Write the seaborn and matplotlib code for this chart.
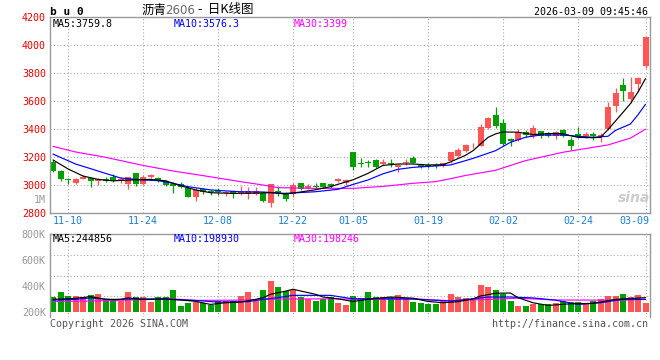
import matplotlib
matplotlib.use("Agg")
import matplotlib.pyplot as plt
import matplotlib.transforms as mtransforms
import numpy as np
import seaborn as sns

# daily candles, 80 sessions (index 0 .. 79)
opens = [3167, 3102, 3043, 3017, 3043, 3050, 3031, 3043, 3055, 3029,
         3009, 3083, 3005, 3060, 3052, 3026, 3009, 3005, 2981, 2912,
         2969, 2959, 2964, 2940, 2955, 2940, 2936, 2936, 2940, 2869,
         2959, 2940, 2936, 3017, 2981, 2995, 3012, 3005, 3026, 3017,
         3233, 3160, 3167, 3178, 3150, 3160, 3126, 3160, 3190, 3150,
         3143, 3143, 3143, 3174, 3207, 3245, 3283, 3277, 3407, 3500,
         3443, 3329, 3324, 3381, 3348, 3384, 3367, 3353, 3393, 3324,
         3365, 3348, 3365, 3346, 3400, 3562, 3715, 3615, 3722, 3853]
highs = [3178, 3107, 3048, 3048, 3074, 3055, 3050, 3055, 3076, 3060,
         3060, 3088, 3074, 3076, 3060, 3036, 3021, 3021, 2993, 2976,
         2981, 2964, 2976, 2957, 2959, 2993, 2988, 2988, 2947, 3007,
         2995, 2952, 3012, 3017, 3005, 3012, 3017, 3017, 3052, 3040,
         3233, 3190, 3178, 3183, 3183, 3183, 3150, 3183, 3207, 3150,
         3160, 3155, 3160, 3238, 3262, 3293, 3300, 3434, 3488, 3555,
         3472, 3336, 3400, 3395, 3429, 3388, 3381, 3386, 3400, 3341,
         3412, 3376, 3376, 3369, 3595, 3691, 3762, 3769, 3774, 4055]
lows = [3095, 3031, 3009, 3009, 3040, 2988, 2998, 3021, 3024, 3017,
        2969, 2993, 3000, 3052, 3019, 2993, 2945, 2976, 2912, 2886,
        2936, 2926, 2926, 2921, 2909, 2926, 2898, 2929, 2881, 2845,
        2921, 2886, 2917, 2964, 2969, 2976, 2976, 2981, 3021, 3000,
        3107, 3126, 3131, 3121, 3143, 3131, 3090, 3143, 3155, 3119,
        3119, 3119, 3131, 3160, 3202, 3238, 3262, 3277, 3400, 3405,
        3281, 3281, 3317, 3341, 3336, 3336, 3341, 3326, 3341, 3250,
        3336, 3336, 3324, 3305, 3395, 3524, 3598, 3584, 3667, 3834]
closes = [3100, 3040, 3033, 3040, 3060, 3026, 3040, 3026, 3033, 3043,
          3055, 3009, 3060, 3071, 3026, 2998, 2995, 2988, 2912, 2964,
          2950, 2950, 2950, 2948, 2936, 2952, 2959, 2959, 2886, 3007,
          2940, 2900, 3000, 2969, 2995, 2988, 2988, 2995, 3040, 3036,
          3126, 3150, 3155, 3126, 3167, 3150, 3143, 3167, 3160, 3131,
          3136, 3136, 3155, 3233, 3250, 3286, 3288, 3412, 3479, 3424,
          3293, 3312, 3376, 3357, 3407, 3353, 3348, 3376, 3348, 3281,
          3348, 3365, 3348, 3357, 3560, 3657, 3674, 3662, 3767, 4055]
# volume, thousands of lots
volumes = [317, 350, 325, 325, 315, 330, 335, 282, 282, 280,
           350, 312, 312, 278, 312, 312, 372, 247, 270, 278,
           265, 252, 286, 286, 286, 325, 350, 286, 372, 434,
           388, 357, 372, 317, 295, 286, 300, 317, 268, 255,
           325, 310, 350, 317, 314, 312, 333, 310, 278, 271,
           263, 264, 286, 340, 312, 310, 295, 410, 388, 372,
           340, 286, 247, 247, 262, 260, 260, 270, 286, 278,
           278, 262, 286, 301, 325, 325, 340, 317, 333, 270]

# moving averages
ma5_idx = [0, 2, 4, 6, 8, 10, 13, 15, 17, 19, 21, 24, 27, 29, 31, 33, 35, 37, 38, 40,
           42, 44, 46, 48, 50, 52, 53, 55, 56, 58, 59, 60, 62, 64, 66, 68, 70, 72, 73, 74,
           75, 76, 77, 78, 79]
ma5_val = [3179, 3115, 3064, 3040, 3030, 3035, 3040, 3030, 2995, 2965, 2945, 2940, 2942, 2945,
           2936, 2950, 2966, 2988, 3005, 3037, 3083, 3140, 3150, 3150, 3143, 3145, 3165, 3212,
           3245, 3340, 3365, 3379, 3377, 3360, 3368, 3366, 3340, 3338, 3340, 3396, 3457, 3519,
           3582, 3664, 3760]
ma10_idx = [0, 3, 5, 7, 9, 12, 14, 16, 18, 21, 23, 25, 28, 31, 35, 38, 40, 42, 44, 46,
            48, 51, 53, 55, 56, 59, 61, 63, 65, 68, 70, 72, 74, 75, 77, 78, 79]
ma10_val = [3221, 3150, 3117, 3083, 3050, 3036, 3031, 3012, 2988, 2965, 2958, 2952, 2950, 2940,
            2952, 2969, 3004, 3036, 3080, 3112, 3126, 3136, 3143, 3174, 3190, 3245, 3305, 3341,
            3357, 3357, 3348, 3341, 3348, 3390, 3436, 3502, 3576]
ma30_idx = [0, 3, 7, 12, 16, 20, 25, 28, 30, 35, 40, 44, 48, 51, 53, 55, 59, 63, 68, 72,
            74, 77, 79]
ma30_val = [3276, 3236, 3198, 3140, 3100, 3067, 3024, 3000, 2981, 2976, 2976, 2990, 3012, 3024,
            3045, 3068, 3105, 3174, 3234, 3269, 3286, 3335, 3399]

vma5_idx = [0, 3, 5, 7, 9, 10, 12, 15, 17, 19, 21, 23, 25, 27, 28, 29, 31, 32, 33, 35,
            36, 38, 40, 42, 45, 48, 50, 52, 54, 56, 57, 59, 61, 62, 64, 66, 69, 72, 75, 79]
vma5_val = [296, 304, 317, 296, 296, 307, 296, 300, 291, 281, 257, 270, 275, 296, 309, 335,
            359, 374, 361, 335, 314, 300, 280, 296, 314, 305, 280, 270, 278, 300, 322, 343,
            345, 309, 270, 249, 262, 265, 296, 309]
vma10_idx = [0, 3, 5, 8, 10, 15, 19, 22, 26, 28, 30, 32, 37, 40, 43, 48, 53, 56, 58, 61,
             64, 67, 70, 73, 76, 79]
vma10_val = [291, 296, 307, 293, 299, 297, 288, 275, 278, 296, 309, 327, 327, 300, 301, 298,
             283, 300, 314, 314, 307, 290, 257, 270, 296, 296]
vma30_idx = [0, 5, 16, 19, 25, 30, 37, 42, 48, 53, 58, 62, 67, 76, 79]
vma30_val = [280, 283, 300, 288, 290, 298, 300, 296, 301, 285, 296, 305, 291, 290, 296]

date_pos = [2, 12, 22, 32, 40, 50, 60, 70, 79]
date_labels = ["11-10", "11-24", "12-08", "12-22", "01-05", "01-19", "02-02", "02-24", "03-09"]
price_ticks = [2800, 3000, 3200, 3400, 3600, 3800, 4000, 4200]
vol_ticks = [200, 400, 600, 800]
vol_labels = ["200K", "400K", "600K", "800K"]

RED = "#ff5555"
GREEN = "#00a000"
GRID = "#aaaaaa"
EDGE = "#999999"
MONO = ["DejaVu Sans Mono", "Noto Sans CJK SC"]
CJK = ["Noto Sans CJK SC", "DejaVu Sans"]

sns.set_theme(style="white")
plt.rcParams["font.family"] = MONO

W, H = 660, 360
fig = plt.figure(figsize=(W / 100, H / 100), dpi=100)
fig.patch.set_facecolor("white")


def px_axes(left, top, right, bottom):
    return fig.add_axes([left / W, 1 - bottom / H, (right - left) / W, (bottom - top) / H])


def fx(x):
    return x / W


def fy(y):
    return 1 - y / H


idx = np.arange(len(closes))
o = np.array(opens)
c = np.array(closes)
colors = np.where(c >= o, RED, GREEN)

# ---- price panel
ax = px_axes(50, 17, 650, 213)
ax.vlines(idx, lows, highs, colors=colors, lw=0.9, zorder=2)
ax.bar(idx, np.maximum(np.abs(c - o), 6), bottom=np.minimum(o, c), width=0.8,
       color=colors, linewidth=0, zorder=2)
sns.lineplot(x=ma30_idx, y=ma30_val, ax=ax, color="#ff00ff", lw=0.85, zorder=3)
sns.lineplot(x=ma10_idx, y=ma10_val, ax=ax, color="#0000ff", lw=0.85, zorder=3)
sns.lineplot(x=ma5_idx, y=ma5_val, ax=ax, color="black", lw=0.85, zorder=3)

ax.set_xlim(-0.4, 79.6)
ax.set_ylim(2800, 4200)
ax.set_yticks(price_ticks)
ax.set_yticklabels([str(t) for t in price_ticks])
ax.set_xticks(date_pos)
ax.set_xticklabels(date_labels)
ax.tick_params(axis="y", length=0, pad=3, labelsize=7.2, labelcolor="#e60000")
ax.tick_params(axis="x", length=0, pad=2.5, labelsize=7.2, labelcolor="#1a7fd4")
ax.grid(True, color=GRID, linestyle=(0, (1, 2)), lw=0.8)
ax.set_xlabel("")
ax.set_ylabel("")
for s in ax.spines.values():
    s.set_color(EDGE)
    s.set_linewidth(1.0)
last = ax.get_xticklabels()[-1]
last.set_horizontalalignment("right")
last.set_transform(last.get_transform() + mtransforms.ScaledTranslation(0.04, 0, fig.dpi_scale_trans))

# ---- volume panel
axv = px_axes(50, 234, 650, 317)
axv.bar(idx, np.array(volumes) - 200, bottom=200, width=0.8, color=colors, linewidth=0, zorder=2)
sns.lineplot(x=vma30_idx, y=vma30_val, ax=axv, color="#ff00ff", lw=0.85, zorder=3)
sns.lineplot(x=vma10_idx, y=vma10_val, ax=axv, color="#0000ff", lw=0.85, zorder=3)
sns.lineplot(x=vma5_idx, y=vma5_val, ax=axv, color="black", lw=0.85, zorder=3)
axv.set_xlim(-0.4, 79.6)
axv.set_ylim(160, 800)
axv.set_yticks(vol_ticks)
axv.set_yticklabels(vol_labels)
axv.set_yticks([320, 480, 640], minor=True)
axv.set_xticks(date_pos)
axv.set_xticklabels([])
axv.tick_params(axis="both", which="both", length=0)
axv.tick_params(axis="y", pad=3, labelsize=7.2, labelcolor="#999999")
axv.grid(True, axis="x", color=GRID, linestyle=(0, (1, 2)), lw=0.8)
axv.grid(True, axis="y", which="minor", color=GRID, linestyle=(0, (1, 2)), lw=0.8)
axv.set_xlabel("")
axv.set_ylabel("")
for s in axv.spines.values():
    s.set_color(EDGE)
    s.set_linewidth(1.0)
axv.spines["bottom"].set_visible(False)

# ---- texts
fs = 7.2
fig.text(fx(50), fy(12), "b u 0", ha="left", va="center", size=8, weight="bold", color="black")
fig.text(fx(142), fy(10), "沥青", ha="left", va="center", size=9, family=CJK, color="black")
fig.text(fx(165), fy(11), "2606", ha="left", va="center", size=8.5, family=["DejaVu Sans"],
         color="#666666")
fig.text(fx(198), fy(10), "-  日K线图", ha="left", va="center", size=9, family=CJK, color="black")
fig.text(fx(648), fy(12), "2026-03-09 09:45:46", ha="right", va="center", size=fs, color="black")
fig.text(fx(53), fy(24), "MA5:3759.8", ha="left", va="center", size=fs, color="black")
fig.text(fx(174), fy(24), "MA10:3576.3", ha="left", va="center", size=fs, color="#0000ff")
fig.text(fx(294), fy(24), "MA30:3399", ha="left", va="center", size=fs, color="#ff00ff")
fig.text(fx(46), fy(200), "1M", ha="right", va="center", size=fs, color="#999999")
fig.text(fx(53), fy(239), "MA5:244856", ha="left", va="center", size=fs, color="black")
fig.text(fx(174), fy(239), "MA10:198930", ha="left", va="center", size=fs, color="#0000ff")
fig.text(fx(294), fy(239), "MA30:198246", ha="left", va="center", size=fs, color="#ff00ff")
fig.text(fx(50), fy(324), "Copyright 2026 SINA.COM", ha="left", va="center", size=fs, color="#555555")
fig.text(fx(648), fy(324), "http://finance.sina.com.cn", ha="right", va="center", size=fs, color="#555555")
fig.text(fx(634), fy(198), "sina", ha="center", va="center", size=10, style="italic",
         weight="bold", color="#cccccc", family=["DejaVu Sans"])

fig.savefig("out.png", dpi=100, facecolor="white")
